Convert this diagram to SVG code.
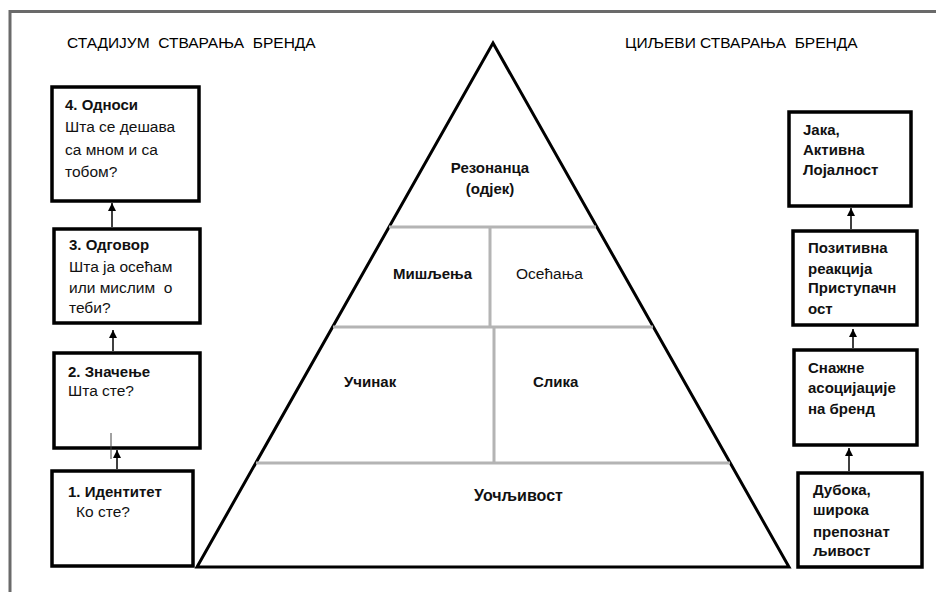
<svg xmlns="http://www.w3.org/2000/svg" width="936" height="592" viewBox="0 0 936 592">
<defs>
<style>
.frame{fill:none;stroke:#6a6a6a;stroke-width:3}
.box{fill:#fff;stroke:#000;stroke-width:3.5}
.pyr{fill:#fff;stroke:#000;stroke-width:3;stroke-linejoin:miter}
.div{stroke:#b4b4b4;stroke-width:3;fill:none}
.con{stroke:#000;stroke-width:1.5;fill:none}
text{font-family:"Liberation Sans",Arial,sans-serif;font-size:15.5px;fill:#111}
.b{font-weight:bold;font-size:15px}
.t{font-size:15.5px;white-space:pre;fill:#000}
</style>
<marker id="ah" viewBox="0 0 10 10" refX="10" refY="5" markerWidth="8" markerHeight="8" orient="auto" markerUnits="userSpaceOnUse">
<path d="M0,0 L10,5 L0,10 z" fill="#000"/>
</marker>
</defs>
<rect width="936" height="592" fill="#fff"/>
<path class="frame" d="M10,600 V11.5 H940"/>
<text class="t" x="67" y="48" xml:space="preserve">СТАДИЈУМ  СТВАРАЊА  БРЕНДА</text>
<text class="t" x="625" y="48" xml:space="preserve">ЦИЉЕВИ СТВАРАЊА  БРЕНДА</text>

<g id="pyramid">
<polygon class="pyr" points="493,43 789,567 197,567"/>
<path class="div" d="M389,227 H596 M490,227 V327 M333,327 H653 M494,327 V463 M256,463 H730"/>
<text class="b" x="490" y="173" text-anchor="middle">Резонанца</text>
<text class="b" x="490" y="194" text-anchor="middle">(одјек)</text>
<text class="b" x="393" y="279">Мишљења</text>
<text x="516" y="279">Осећања</text>
<text class="b" x="344" y="387">Учинак</text>
<text class="b" x="533" y="387">Слика</text>
<text class="b" x="474" y="501" style="font-size:16px">Уочљивост</text>
</g>

<g id="stage4">
<rect class="box" x="52" y="87" width="147" height="114"/>
<text x="65" y="110"><tspan class="b">4. Односи</tspan><tspan x="65" dy="22">Шта се дешава</tspan><tspan x="65" dy="23">са мном и са</tspan><tspan x="65" dy="22">тобом?</tspan></text>
</g>
<g id="stage3">
<rect class="box" x="54" y="229" width="146" height="94"/>
<text x="69" y="250" xml:space="preserve"><tspan class="b">3. Одговор</tspan><tspan x="69" dy="22">Шта ја осећам</tspan><tspan x="69" dy="21">или мислим  о</tspan><tspan x="69" dy="20">теби?</tspan></text>
</g>
<g id="stage2">
<rect class="box" x="54" y="353" width="146" height="95"/>
<text x="68" y="377"><tspan class="b">2. Значење</tspan><tspan x="68" dy="19">Шта сте?</tspan></text>
</g>
<g id="stage1">
<rect class="box" x="52" y="471" width="141" height="95"/>
<text x="68" y="497"><tspan class="b">1. Идентитет</tspan><tspan x="76" dy="20">Ко сте?</tspan></text>
</g>

<g id="goal4">
<rect class="box" x="789" y="112" width="122" height="94"/>
<text class="b" x="803" y="135"><tspan>Јака,</tspan><tspan x="803" dy="20">Активна</tspan><tspan x="803" dy="20">Лојалност</tspan></text>
</g>
<g id="goal3">
<rect class="box" x="793" y="231" width="124" height="94"/>
<text class="b" x="808" y="253"><tspan>Позитивна</tspan><tspan x="808" dy="21">реакција</tspan><tspan x="808" dy="19">Приступачн</tspan><tspan x="808" dy="21">ост</tspan></text>
</g>
<g id="goal2">
<rect class="box" x="794" y="350" width="123" height="95"/>
<text class="b" x="808" y="373"><tspan>Снажне</tspan><tspan x="808" dy="20">асоцијације</tspan><tspan x="808" dy="21">на бренд</tspan></text>
</g>
<g id="goal1">
<rect class="box" x="798" y="473" width="124" height="94"/>
<text class="b" x="813" y="495"><tspan>Дубока,</tspan><tspan x="813" dy="20">широка</tspan><tspan x="813" dy="22">препознат</tspan><tspan x="813" dy="19">љивост</tspan></text>
</g>

<g id="connectors">
<line class="con" x1="112" y1="227" x2="112" y2="203" marker-end="url(#ah)"/>
<line class="con" x1="113" y1="351" x2="113" y2="330" marker-end="url(#ah)"/>
<line class="con" x1="117" y1="469" x2="117" y2="450" marker-end="url(#ah)"/>
<line x1="111" y1="433" x2="111" y2="459" stroke="#444" stroke-width="1"/>
<line class="con" x1="851" y1="229" x2="851" y2="208" marker-end="url(#ah)"/>
<line class="con" x1="853" y1="348" x2="853" y2="329" marker-end="url(#ah)"/>
<line class="con" x1="849" y1="471" x2="849" y2="448" marker-end="url(#ah)"/>
</g>
</svg>
